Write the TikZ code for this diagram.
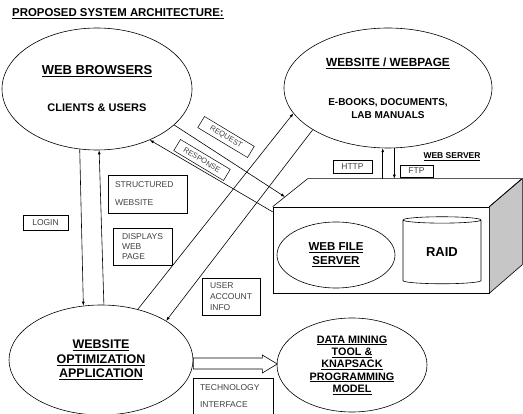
\documentclass[tikz,border=0pt]{standalone}
\usepackage{fontspec}
\setmainfont{Liberation Sans}
\usetikzlibrary{arrows.meta, calc, shapes.geometric}

\begin{document}
\begin{tikzpicture}[x=1pt, y=-1pt,
    bubble/.style={ellipse, draw, line width=0.6pt, inner sep=0pt, align=center},
    tag/.style={draw, line width=0.5pt, inner sep=0pt, font=\fontsize{8.5}{9}\selectfont, text=black!75},
    flow/.style={line width=0.6pt, -{Latex[length=4pt, width=3pt]}},
    link/.style={line width=0.6pt}]
  \useasboundingbox (0,0) rectangle (523,414);

  \node[font=\fontsize{11.4}{13}\selectfont\bfseries, inner sep=0pt, anchor=west] (title) at (12,14) {\underline{PROPOSED SYSTEM ARCHITECTURE:}};

  \node[bubble, minimum width=190, minimum height=122, font=\bfseries] (wb) at (97,89) {\fontsize{13}{15}\selectfont\underline{WEB BROWSERS}\\[25pt] \fontsize{11}{13}\selectfont CLIENTS \& USERS};
  \node[bubble, minimum width=208, minimum height=120, font=\fontsize{10}{13}\selectfont\bfseries] (ws) at (388,88) {\fontsize{11.8}{14}\selectfont\underline{WEBSITE / WEBPAGE}\\[26pt] E-BOOKS, DOCUMENTS,\\ LAB MANUALS};
  \node[bubble, minimum width=184, minimum height=110, font=\fontsize{12.5}{14.5}\selectfont\bfseries] (opt) at (101,360) {\underline{WEBSITE}\\ \underline{OPTIMIZATION}\\ \underline{APPLICATION}};
  \node[bubble, minimum width=150, minimum height=94, font=\fontsize{10.8}{12.3}\selectfont\bfseries] (dm) at (352,365) {\underline{DATA MINING}\\ \underline{TOOL \&}\\ \underline{KNAPSACK}\\ \underline{PROGRAMMING}\\ \underline{MODEL}};

  % web server box
  \node[draw, line width=0.6pt, minimum width=216, minimum height=86, inner sep=0pt] (srv) at (381,250) {};
  \draw[link, fill=gray!45] (srv.north east) -- ++(33,-28) -- ++(0,86) -- (srv.south east) -- cycle;
  \draw[link] (srv.north west) -- ++(35,-28) coordinate (btl) -- ++(214,0) coordinate (btr) -- (srv.north east);
  \node[bubble, minimum width=118, minimum height=66, font=\fontsize{11.5}{14}\selectfont\bfseries] (wfs) at (336,255) {\underline{WEB FILE}\\ \underline{SERVER}};
  \node[cylinder, draw, line width=0.6pt, shape border rotate=90, aspect=0.2, minimum width=78, minimum height=67, inner sep=0pt, font=\fontsize{13}{15}\selectfont\bfseries] (raid) at (442,252) {RAID};
  \node[font=\fontsize{8.5}{10}\selectfont\bfseries, inner sep=0pt] (wsv) at (452,157) {\underline{WEB SERVER}};

  \draw[flow] (wb.254) -- (opt.108);
  \draw[flow] (opt.87) -- (wb.-88);
  \draw[flow] (wb.-25) -- ($(srv.north west)!0.35!(btl)$);
  \draw[flow] ($(srv.north west)!0.06!(srv.south west)$) -- (wb.-44);
  \draw[flow] (opt.54) -- (ws.195);
  \draw[flow] (ws.209) -- (opt.31);
  \draw[flow] (ws.265 |- btl) -- (ws.265);
  \draw[flow] (ws.-84) -- (ws.-84 |- btl);
  \draw[link, fill=white] (opt.east) ++(0,-2) -- ++(69,0) -- ++(0,-3) -- ++(15,9) -- ++(-15,9) -- ++(0,-4) -- ++(-69,0) -- cycle;

  \node[tag, minimum width=45, minimum height=15] (login) at (45.5,222.5) {LOGIN};
  \node[tag, minimum width=79, minimum height=38, text width=65, align=left] (struct) at (147.5,194) {STRUCTURED\\[9pt] WEBSITE};
  \node[tag, minimum width=59, minimum height=37, text width=41, align=left] (disp) at (142.5,246.5) {DISPLAYS\\[1pt] WEB\\[1pt] PAGE};
  \node[tag, minimum width=58, minimum height=37, text width=42, align=left] (acct) at (231,296.5) {USER\\[2pt] ACCOUNT\\[2pt] INFO};
  \node[tag, minimum width=80, minimum height=36, text width=66, align=left] (tech) at (233,396) {TECHNOLOGY\\[8pt] INTERFACE};
  \node[tag, minimum width=58, minimum height=13, rotate=-31, font=\fontsize{7.5}{9}\selectfont] (req) at (226,137) {REQUEST};
  \node[tag, minimum width=58, minimum height=13, rotate=-31, font=\fontsize{7.5}{9}\selectfont] (resp) at (202,160) {RESPONSE};
  \node[tag, minimum width=39, minimum height=13] (http) at (352.5,166.5) {HTTP};
  \node[tag, minimum width=33, minimum height=12] (ftp) at (416.5,171) {FTP};
\end{tikzpicture}
\end{document}
